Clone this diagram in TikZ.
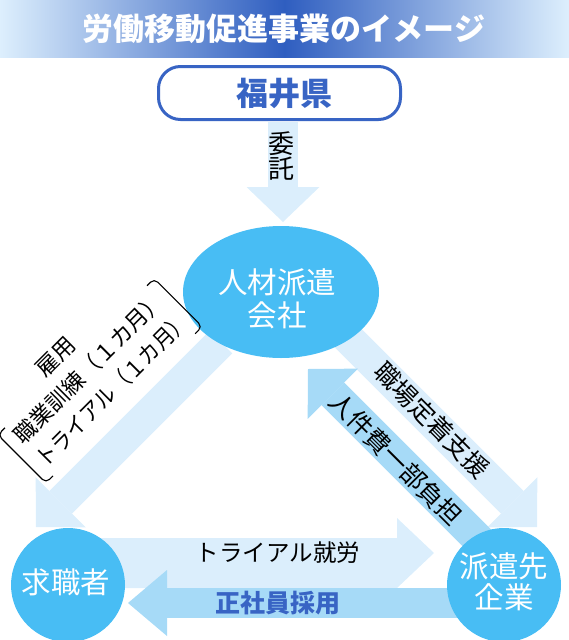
\documentclass[tikz,border=0pt]{standalone}
\usepackage{fontspec}
\setmainfont{Noto Sans CJK JP}
\usetikzlibrary{arrows.meta,shapes.geometric}
\definecolor{barDark}{RGB}{47,94,192}
\definecolor{barLight}{RGB}{221,239,253}
\definecolor{boxBlue}{RGB}{56,100,196}
\definecolor{ballBlue}{RGB}{72,189,244}
\definecolor{arrLight}{RGB}{219,238,252}
\definecolor{arrMid}{RGB}{166,218,247}
\begin{document}
\begin{tikzpicture}[x=1pt,y=-1pt,
  blk/.style n args={3}{line width=#1, -{Triangle[length=#2,width=#3,line width=0pt]}},
  ball/.style={circle, fill=ballBlue, minimum size=114pt, inner sep=0pt},
  balltext/.style={text=white, align=center, inner sep=0pt},
  lbl/.style={text=black, inner sep=0pt},
  bracketline/.style={draw=black, line width=1.1pt, rounded corners=5pt},
]
\useasboundingbox (0,0) rectangle (569,640);
% title bar
\shade[left color=barLight, right color=barLight, middle color=barDark] (0,0) rectangle (569,57);
\node[text=white, inner sep=0pt, font=\bfseries\fontsize{31}{31}\selectfont] (title) at (284,29) {労働移動促進事業のイメージ};
% prefecture box
\node[draw=boxBlue, line width=3pt, rounded corners=22pt, minimum width=242pt, minimum height=53pt, fill=white] (ken) at (279.5,93) {};
\node[text=boxBlue, inner sep=0pt, font=\bfseries\fontsize{32}{32}\selectfont] (kentext) at (284,93) {福井県};
% coordinates of arrows
\coordinate (itakuS) at (283,122);
\coordinate (itakuT) at (283,222);
\coordinate (LS) at (221,342);
\coordinate (LT) at (36,527);
\coordinate (RS) at (342,332);
\coordinate (RT) at (537,527);
\coordinate (MS) at (483,544);
\coordinate (MT) at (308,369);
\coordinate (TS) at (80,538);
\coordinate (TT) at (434,553);
\coordinate (SS) at (480,603);
\coordinate (ST) at (128,603);
% arrows
\draw[arrLight, blk={30pt}{35pt}{73pt}] (itakuS) -- (itakuT);
\draw[arrLight, blk={32pt}{35pt}{71pt}] (LS) -- (LT);
\draw[arrLight, blk={32pt}{35pt}{71pt}] (RS) -- (RT);
\draw[arrMid, blk={32pt}{35pt}{71pt}] (MS) -- (MT);
\fill[arrLight] (TS) -- (397,538) -- (397,518) -- (TT) -- (397,588) -- (80,588) -- cycle;
\draw[arrMid, blk={30pt}{39pt}{66pt}] (SS) -- (ST);
% nodes
\node[ellipse, fill=ballBlue, minimum width=196pt, minimum height=132pt, inner sep=0pt] (haken) at (281,292) {};
\node[balltext, font=\fontsize{29.5}{33}\selectfont] (hakentext) at (277,299) {人材派遣\\会社};
\node[ball] (kyushoku) at (68,585) {};
\node[balltext, font=\fontsize{29.5}{29.5}\selectfont] (kyushokutext) at (66,582) {求職者};
\node[ball] (saki) at (504,585) {};
\node[balltext, font=\fontsize{29.5}{31}\selectfont] (sakitext) at (504,582) {派遣先\\企業};
% arrow labels
\node[lbl, align=center, font=\fontsize{26}{25}\selectfont] (itaku) at (281,156) {委\\託};
\node[lbl, rotate=-45, font=\fontsize{25}{25}\selectfont] (shokuba) at (432,420) {職場定着支援};
\node[lbl, rotate=-45, font=\fontsize{25}{25}\selectfont] (jinken) at (396,459) {人件費一部負担};
\node[lbl, font=\fontsize{23.5}{23.5}\selectfont] (trial) at (278,553) {トライアル就労};
\node[text=boxBlue, inner sep=0pt, font=\bfseries\fontsize{25}{25}\selectfont] (seishain) at (278,603) {正社員採用};
% left rotated block
\begin{scope}[rotate=45, transform shape]
  \node[lbl, font=\fontsize{22.5}{22.5}\selectfont] (koyo) at (-213,292) {雇用};
  \node[lbl, font=\fontsize{22.5}{22.5}\selectfont] (line1) at (-197,323) {職業訓練（１カ月）};
  \node[lbl, font=\fontsize{22.5}{22.5}\selectfont] (line2) at (-196,355) {\scalebox{0.92}[1]{トライアル（１カ月）}};
  \draw[bracketline] (-299,306) -- (-309,306) -- (-309,374) -- (-299,374);
  \draw[bracketline] (-98,306) -- (-88,306) -- (-88,374) -- (-98,374);
\end{scope}
\end{tikzpicture}
\end{document}
